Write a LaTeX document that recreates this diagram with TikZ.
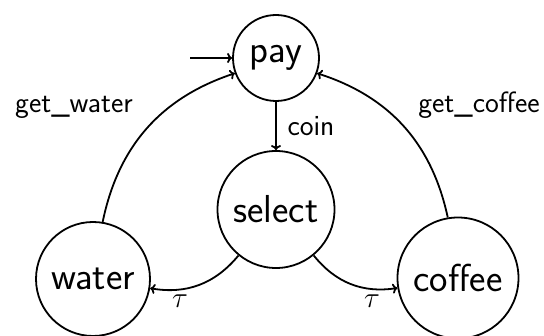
\RequirePackage{fix-cm}
\documentclass[tikz,border=0pt]{standalone}
\usepackage{fontspec}
\usetikzlibrary{arrows.meta}
\begin{document}
\begin{tikzpicture}[x=1pt,y=-1pt,line width=1.8pt,>={To[length=5pt,width=10pt]}]
\tikzset{
  state/.style={draw,circle,inner sep=0pt,font=\sffamily\fontsize{39}{39}\selectfont},
  lbl/.style={font=\sffamily\fontsize{29.4}{30}\selectfont,inner sep=0pt,anchor=base},
  edge/.style={->}
}
\useasboundingbox (0,0) rectangle (544,336);
\node[state,minimum size=86pt] (pay) at (276,58) {pay};
\node[state,minimum size=117pt] (select) at (276,209.5) {select};
\node[state,minimum size=114pt] (water) at (93,279) {water};
\node[state,minimum size=121pt] (coffee) at (458,278) {coffee};
\coordinate (init) at (190,58);
\draw[edge] (init) -- (pay);
\draw[edge] (pay) -- (select);
\draw[edge] (water) to[bend left=30] (pay);
\draw[edge] (coffee) to[bend right=30] (pay);
\draw[edge] (select) to[bend left=30] (water);
\draw[edge] (select) to[bend right=30] (coffee);
\node[lbl] (coin) at (311,136) {coin};
\node[lbl] (gw) at (74,113) {get\_water};
\node[lbl] (gc) at (479,113) {get\_coffee};
\node[lbl] (t1) at (180,308) {$\tau$};
\node[lbl] (t2) at (372,308) {$\tau$};
\end{tikzpicture}
\end{document}
